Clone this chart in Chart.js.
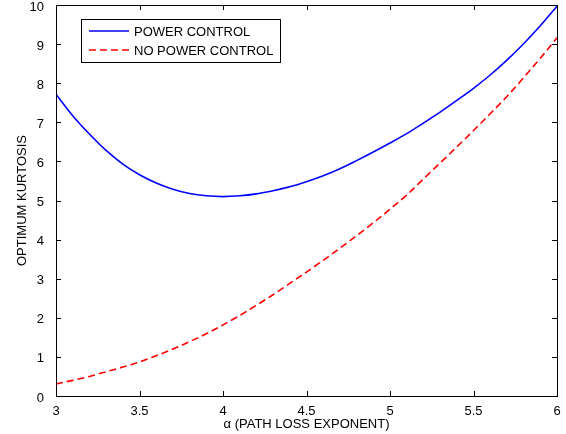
<!DOCTYPE html>
<html>
<head>
<meta charset="utf-8">
<script src="https://cdn.jsdelivr.net/npm/chart.js@4/dist/chart.umd.min.js"></script>
<style>
  html, body { margin: 0; padding: 0; background: #fff; }
  #wrap { width: 566px; height: 434px; }
</style>
</head>
<body>
<div id="wrap"><canvas id="myChart"></canvas></div>
<script>
// path loss exponent (x) and the two kurtosis curves
const alpha = [3.0, 3.1, 3.2, 3.3, 3.4, 3.5, 3.6, 3.7, 3.8, 3.9, 4.0,
  4.1, 4.2, 4.3, 4.4, 4.5, 4.6, 4.7, 4.8, 4.9, 5.0,
  5.1, 5.2, 5.3, 5.4, 5.5, 5.6, 5.7, 5.8, 5.9, 6.0]
const powerControl = [7.72, 7.17, 6.70, 6.28, 5.93, 5.66, 5.45, 5.29, 5.18, 5.12, 5.10,
  5.12, 5.17, 5.25, 5.35, 5.48, 5.63, 5.81, 6.02, 6.24, 6.47,
  6.71, 6.98, 7.26, 7.56, 7.87, 8.21, 8.59, 9.01, 9.47, 9.97]
const noPowerControl = [0.31, 0.40, 0.50, 0.62, 0.74, 0.87, 1.03, 1.20, 1.39, 1.59, 1.82,
  2.06, 2.32, 2.59, 2.88, 3.17, 3.47, 3.78, 4.10, 4.43, 4.78,
  5.14, 5.55, 5.96, 6.37, 6.79, 7.22, 7.66, 8.14, 8.64, 9.16]
const xTicks = [3, 3.5, 4, 4.5, 5, 5.5, 6]
const xTickLabels = ['3', '3.5', '4', '4.5', '5', '5.5', '6']
const yTicks = [0, 1, 2, 3, 4, 5, 6, 7, 8, 9, 10]

const FONT = 'Liberation Sans, Arial, Helvetica, sans-serif'

const toPoints = ys => ys.map((y, i) => ({ x: alpha[i], y: y }))

// frame, inward ticks on all four sides and the boxed legend
const matlabBox = {
  id: 'matlabBox',
  afterDraw(chart) {
    const ctx = chart.ctx
    const a = chart.chartArea
    const xs = chart.scales.x, ys = chart.scales.y
    ctx.save()
    ctx.strokeStyle = '#000'
    ctx.lineWidth = 1
    ctx.setLineDash([])
    ctx.strokeRect(Math.round(a.left) + 0.5, Math.round(a.top) + 0.5,
      Math.round(a.right - a.left), Math.round(a.bottom - a.top))
    ctx.beginPath()
    xTicks.forEach(v => {
      const px = Math.round(xs.getPixelForValue(v)) + 0.5
      ctx.moveTo(px, a.bottom); ctx.lineTo(px, a.bottom - 5)
      ctx.moveTo(px, a.top); ctx.lineTo(px, a.top + 5)
    })
    yTicks.forEach(v => {
      const py = Math.round(ys.getPixelForValue(v)) + 0.5
      ctx.moveTo(a.left, py); ctx.lineTo(a.left + 5, py)
      ctx.moveTo(a.right, py); ctx.lineTo(a.right - 5, py)
    })
    ctx.stroke()

    // legend
    const lx = 81, ly = 19, lw = 199, lh = 43
    ctx.fillStyle = '#fff'
    ctx.fillRect(lx, ly, lw, lh)
    ctx.strokeRect(lx + 0.5, ly + 0.5, lw, lh)
    ctx.font = '13px ' + FONT
    ctx.textBaseline = 'middle'
    chart.data.datasets.forEach((ds, i) => {
      const y = ly + 12 + i * 19
      ctx.strokeStyle = ds.borderColor
      ctx.lineWidth = ds.borderWidth
      ctx.setLineDash(ds.borderDash || [])
      ctx.beginPath()
      ctx.moveTo(89, y); ctx.lineTo(129, y)
      ctx.stroke()
      ctx.fillStyle = '#000'
      ctx.fillText(ds.label, 134, y + 1)
    })
    ctx.restore()
  }
}

var ctx = document.getElementById('myChart').getContext('2d');
var chart = new Chart(ctx, {
  type: 'line',
  data: {
    datasets: [{
      label: 'POWER CONTROL',
      data: toPoints(powerControl),
      borderColor: 'rgb(0, 0, 255)',
      borderWidth: 1.6,
      pointRadius: 0,
      cubicInterpolationMode: 'monotone',
      fill: false
    }, {
      label: 'NO POWER CONTROL',
      data: toPoints(noPowerControl),
      borderColor: 'rgb(255, 0, 0)',
      borderWidth: 1.6,
      borderDash: [7, 4],
      pointRadius: 0,
      cubicInterpolationMode: 'monotone',
      fill: false
    }]
  },
  options: {
    responsive: true,
    maintainAspectRatio: false,
    animation: false,
    layout: { padding: { left: 0, right: 9, top: 5, bottom: 0 } },
    plugins: { legend: { display: false }, tooltip: { enabled: false } },
    scales: {
      x: {
        type: 'linear',
        min: 3, max: 6,
        grid: { display: false },
        border: { display: false },
        afterBuildTicks: s => { s.ticks = xTicks.map(v => ({ value: v })) },
        afterFit: s => { s.height = 38; s.paddingLeft = 0; s.paddingRight = 0 },
        ticks: {
          color: '#000', padding: 0, maxRotation: 0,
          font: { family: FONT, size: 13 },
          callback: (v, i) => xTickLabels[i]
        },
        title: {
          display: true, text: 'α (PATH LOSS EXPONENT)', color: '#000',
          padding: 2, font: { family: FONT, size: 13 }
        }
      },
      y: {
        min: 0, max: 10,
        grid: { display: false },
        border: { display: false },
        afterBuildTicks: s => { s.ticks = yTicks.map(v => ({ value: v })) },
        afterFit: s => { s.width = 56; s.paddingTop = 0; s.paddingBottom = 0 },
        ticks: { color: '#000', padding: 4, labelOffset: 2, font: { family: FONT, size: 13 } },
        title: {
          display: true, text: 'OPTIMUM KURTOSIS', color: '#000',
          padding: 15, font: { family: FONT, size: 13 }
        }
      }
    }
  },
  plugins: [matlabBox]
});
</script>
</body>
</html>
